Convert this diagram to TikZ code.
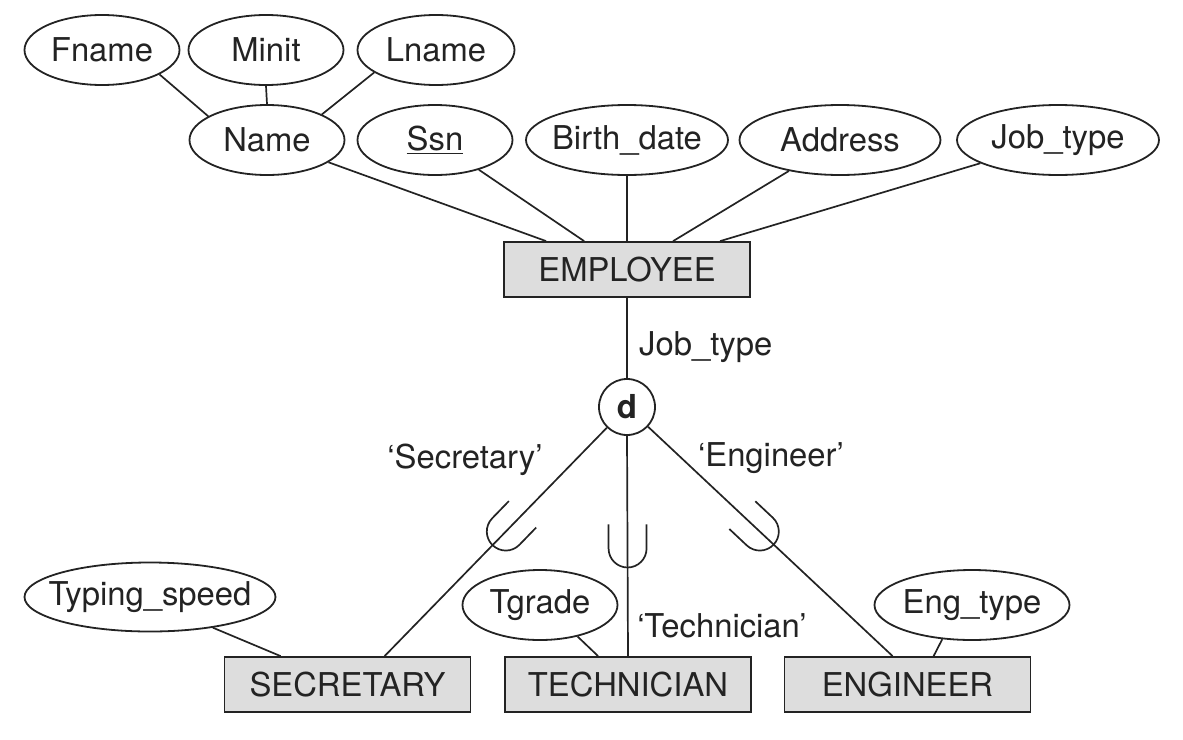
\documentclass[tikz,border=0pt]{standalone}
\usepackage{fontspec}
\setmainfont{TeX Gyre Heros}
\usetikzlibrary{shapes.geometric,calc}
\definecolor{boxfill}{RGB}{221,221,221}
\definecolor{ink}{RGB}{35,35,35}
\begin{document}
\begin{tikzpicture}[x=1pt,y=1pt,
  every node/.style={font=\fontsize{32.8}{38}\selectfont, text=ink},
  attr/.style={ellipse, draw=ink, line width=1.8pt, inner sep=0pt, minimum height=70pt},
  ent/.style={rectangle, draw=ink, fill=boxfill, line width=1.8pt, inner sep=0pt, minimum width=246pt, minimum height=55pt},
  conn/.style={draw=ink, line width=1.7pt},
  lbl/.style={inner sep=0pt},
  dcirc/.style={circle, draw=ink, line width=1.8pt, minimum size=56pt, inner sep=0pt, font=\fontsize{33}{36}\selectfont\bfseries},
  subsetmark/.style={draw=ink, line width=1.7pt}
]
\useasboundingbox (0,0) rectangle (1183,-739);

% attributes of EMPLOYEE
\node[attr, minimum width=155pt] (fname) at (102,-50) {\makebox[0pt]{Fname}};
\node[attr, minimum width=155pt] (minit) at (266,-50) {\makebox[0pt]{Minit}};
\node[attr, minimum width=157pt] (lname) at (436,-50) {\makebox[0pt]{Lname}};
\node[attr, minimum width=155pt] (name) at (267,-140) {\makebox[0pt]{Name}};
\node[attr, minimum width=155pt] (ssn) at (435,-140) {\makebox[0pt]{\underline{Ssn}}};
\node[attr, minimum width=202pt] (bdate) at (627,-140) {\makebox[0pt]{Birth\_date}};
\node[attr, minimum width=201pt] (addr) at (840,-140) {\makebox[0pt]{Address}};
\node[attr, minimum width=202pt] (jobt) at (1058,-140) {\makebox[0pt]{Job\_type}};

% entities
\node[ent] (emp) at (627,-269.5) {EMPLOYEE};
\node[ent] (sec) at (347.5,-684.5) {SECRETARY};
\node[ent] (tech) at (628,-684.5) {TECHNICIAN};
\node[ent] (eng) at (907.5,-684.5) {ENGINEER};

% disjointness circle
\node[dcirc] (d) at (627,-407) {d};
\node[lbl, anchor=west] (jtlabel) at (639,-347) {Job\_type};

% subclass attributes
\node[attr, minimum width=251pt, minimum height=69pt] (typ) at (150,-597) {\makebox[0pt]{Typing\_speed}};
\node[attr, minimum width=155pt] (tgr) at (540,-605) {\makebox[0pt]{Tgrade}};
\node[attr, minimum width=195pt] (engt) at (972,-605) {\makebox[0pt]{Eng\_type}};

% defining-predicate labels
\node[lbl] (seclbl) at (465,-460) {‘Secretary’};
\node[lbl] (englbl) at (771,-458) {‘Engineer’};
\node[lbl] (techlbl) at (722,-626) {‘Technician’};

% connection points on entity tops
\coordinate (empA) at ($(emp.north west)+(43,0)$);
\coordinate (empB) at ($(emp.north west)+(81,0)$);
\coordinate (empC) at ($(emp.north west)+(170,0)$);
\coordinate (empD) at ($(emp.north west)+(217,0)$);
\coordinate (secTop) at ($(sec.north west)+(161,0)$);
\coordinate (secAttr) at ($(sec.north west)+(57,0)$);
\coordinate (techTop) at (tech.north);
\coordinate (techAttr) at ($(tech.north west)+(94,0)$);
\coordinate (engTop) at ($(eng.north west)+(109,0)$);
\coordinate (engAttr) at ($(eng.north west)+(150,0)$);

% composite attribute
\draw[conn] (fname.-23) -- (name.158);
\draw[conn] (minit.south) -- (name.north);
\draw[conn] (lname.200) -- (name.25);

% EMPLOYEE attributes
\draw[conn] (name) -- (empA);
\draw[conn] (ssn) -- (empB);
\draw[conn] (bdate.south) -- (emp.north);
\draw[conn] (addr) -- (empC);
\draw[conn] (jobt) -- (empD);

% specialization
\draw[conn] (emp.south) -- (d.north);
\draw[conn] (d) -- (secTop);
\draw[conn] (d.south) -- (techTop);
\draw[conn] (d) -- (engTop);

% subclass attributes
\draw[conn] (typ.-26) -- (secAttr);
\draw[conn] (tgr.-40) -- (techAttr);
\draw[conn] (engt.-131) -- (engAttr);

% subset symbols
\draw[subsetmark, shift={($(d)!0.5!(secTop)$)}, rotate=45.9]
  (24,19) -- (0,19) arc (90:270:19) -- (24,-19);
\draw[subsetmark, shift={($(d)!0.568!(techTop)$)}, rotate=90]
  (24,19) -- (0,19) arc (90:270:19) -- (24,-19);
\draw[subsetmark, shift={($(d)!0.5!(engTop)$)}, rotate=136.8]
  (24,19) -- (0,19) arc (90:270:19) -- (24,-19);
\end{tikzpicture}
\end{document}
